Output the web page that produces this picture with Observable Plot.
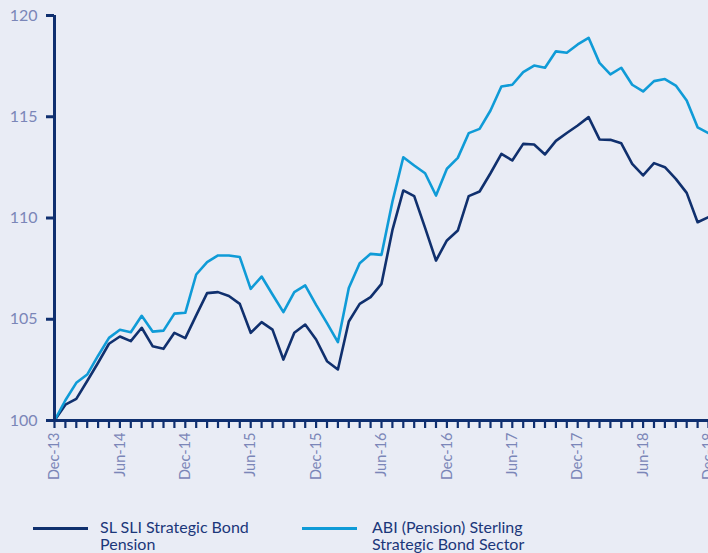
<!DOCTYPE html>
<html>
<head>
<meta charset="utf-8">
<script src="https://cdn.jsdelivr.net/npm/d3@7"></script>
<script src="https://cdn.jsdelivr.net/npm/@observablehq/plot@0.6"></script>
<style>
  html, body { margin: 0; padding: 0; background: #e9ecf5; }
  body { width: 708px; height: 553px; overflow: hidden; font-family: Lato, "Open Sans", sans-serif; }
  #chart svg { display: block; }
  #legend { position: relative; height: 58px; color: #1b377a; font-size: 16px; line-height: 17px; }
  .swatch { position: absolute; height: 3px; }
  .label { position: absolute; white-space: nowrap; }
</style>
</head>
<body>
<div id="chart"></div>
<div id="legend"></div>
<script>
// Monthly index values, Dec-13 to Dec-18 (rebased to 100)
const seriesNames = ["SL SLI Strategic Bond\nPension", "ABI (Pension) Sterling\nStrategic Bond Sector"];
const slValues = [100, 100.78, 101.07, 101.95, 102.85, 103.79, 104.15, 103.92, 104.58, 103.67, 103.54, 104.33, 104.07, 105.19, 106.29, 106.34, 106.15, 105.76, 104.33, 104.86, 104.49, 103.01, 104.33, 104.74, 104.0, 102.93, 102.52, 104.89, 105.76, 106.09, 106.75, 109.4, 111.36, 111.08, 109.51, 107.9, 108.89, 109.38, 111.08, 111.31, 112.21, 113.17, 112.84, 113.66, 113.63, 113.14, 113.81, 114.2, 114.57, 114.98, 113.88, 113.86, 113.69, 112.67, 112.1, 112.71, 112.51, 111.93, 111.24, 109.79, 110.04];
const abiValues = [100, 101.0, 101.86, 102.27, 103.2, 104.08, 104.48, 104.36, 105.17, 104.39, 104.44, 105.28, 105.32, 107.21, 107.82, 108.15, 108.15, 108.07, 106.5, 107.11, 106.22, 105.35, 106.34, 106.67, 105.71, 104.81, 103.87, 106.54, 107.77, 108.23, 108.18, 110.8, 113.0, 112.59, 112.21, 111.11, 112.43, 112.97, 114.19, 114.4, 115.31, 116.49, 116.58, 117.2, 117.53, 117.42, 118.23, 118.16, 118.57, 118.9, 117.66, 117.09, 117.42, 116.58, 116.25, 116.76, 116.86, 116.54, 115.8, 114.48, 114.19];
const xTickLabels = ["Dec-13", "Jun-14", "Dec-14", "Jun-15", "Dec-15", "Jun-16", "Dec-16", "Jun-17", "Dec-17", "Jun-18", "Dec-18"];
const yTicks = [100, 105, 110, 115, 120];

const colors = ["#10306e", "#0f9bd7"];
const navy = "#0f2f6f";
const labelColor = "#7b86b8";

const rows = [];
slValues.forEach((v, i) => rows.push({i, value: v, series: seriesNames[0]}));
abiValues.forEach((v, i) => rows.push({i, value: v, series: seriesNames[1]}));

const allMonths = d3.range(slValues.length);
const labelPositions = xTickLabels.map((_, k) => k * 6);

const chart = Plot.plot({
  width: 708,
  height: 495,
  marginLeft: 54,
  marginRight: 0,
  marginTop: 15,
  marginBottom: 75,
  style: { background: "transparent", fontFamily: "Lato, 'Open Sans', sans-serif" },
  x: { type: "linear", domain: [0, slValues.length - 1] },
  y: { domain: [100, 120] },
  color: { domain: seriesNames, range: colors },
  marks: [
    Plot.line(rows.filter(d => d.series === seriesNames[0]), {x: "i", y: "value", stroke: colors[0], strokeWidth: 2.6}),
    Plot.line(rows.filter(d => d.series === seriesNames[1]), {x: "i", y: "value", stroke: colors[1], strokeWidth: 2.6}),
    Plot.axisX({ticks: allMonths, tickSize: 8, tickFormat: () => "", stroke: navy, strokeWidth: 2.2, label: null}),
    Plot.axisX({ticks: labelPositions, tickSize: 0, tickPadding: 12, tickRotate: -90,
      tickFormat: i => xTickLabels[i / 6], fill: labelColor, fontSize: 14.5, label: null}),
    Plot.axisY({ticks: yTicks, tickSize: 8, tickPadding: 9, stroke: navy, strokeWidth: 3,
      fill: labelColor, fontSize: 16, label: null}),
    Plot.ruleY([100], {stroke: navy, strokeWidth: 3}),
    Plot.ruleX([0], {stroke: navy, strokeWidth: 3})
  ]
});
document.getElementById("chart").appendChild(chart);

const legend = document.getElementById("legend");
const legendPos = [{line: 33, text: 100}, {line: 302, text: 372}];
seriesNames.forEach((name, k) => {
  const sw = document.createElement("div");
  sw.className = "swatch";
  sw.style.left = legendPos[k].line + "px";
  sw.style.width = "55px";
  sw.style.top = "32px";
  sw.style.background = colors[k];
  legend.appendChild(sw);
  const lab = document.createElement("div");
  lab.className = "label";
  lab.style.left = legendPos[k].text + "px";
  lab.style.top = "23px";
  lab.innerHTML = name.split("\n").join("<br>");
  legend.appendChild(lab);
});
</script>
</body>
</html>
